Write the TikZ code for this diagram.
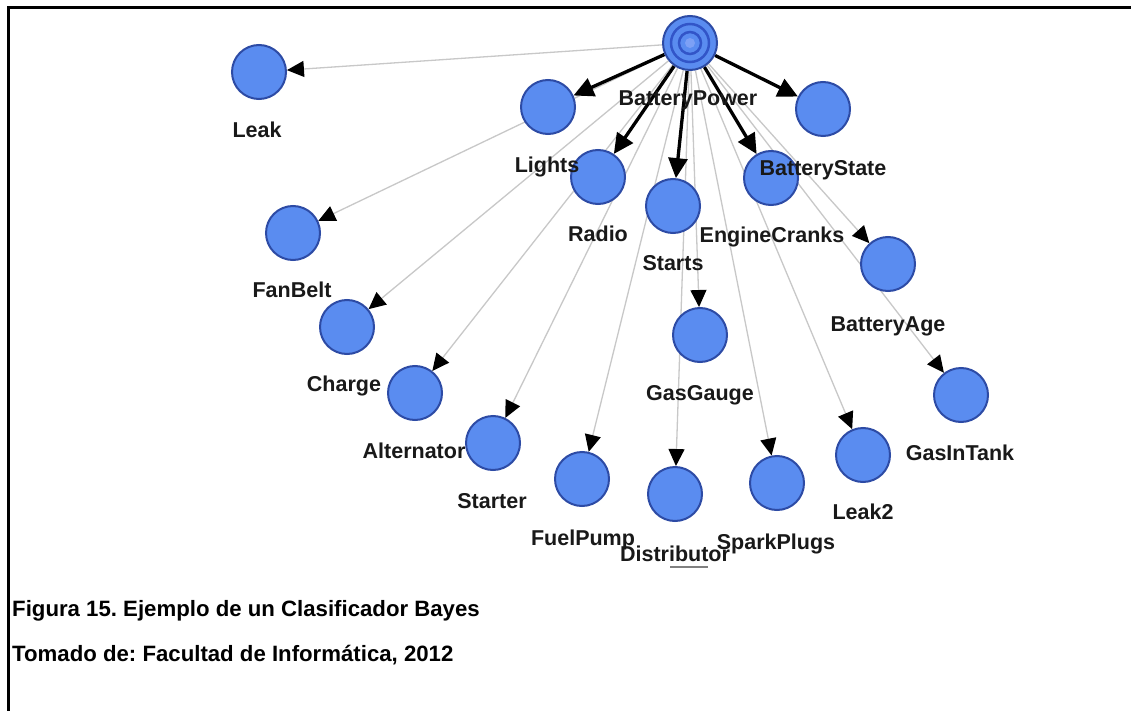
\documentclass[tikz,border=0pt]{standalone}
\usepackage{fontspec}
\setmainfont{Liberation Sans}
\usetikzlibrary{arrows.meta,calc}
\definecolor{nodefill}{RGB}{90,140,240}
\definecolor{nodeline}{RGB}{45,75,165}
\definecolor{ringdark}{RGB}{50,85,200}
\definecolor{ringlight}{RGB}{125,160,245}
\definecolor{thinedge}{RGB}{200,200,200}
\definecolor{labeltext}{RGB}{25,25,25}
\pgfdeclarelayer{bg}
\pgfdeclarelayer{edges}
\pgfsetlayers{bg,edges,main}
\frenchspacing
\begin{document}
\begin{tikzpicture}[x=1pt,y=-1pt,
  bnode/.style={circle, draw=nodeline, line width=2pt, fill=nodefill,
                minimum size=54pt, inner sep=0pt},
  nlabel/.style={font=\fontsize{21.5}{24}\selectfont\bfseries, text=labeltext,
                 inner sep=0pt, anchor=base},
  strong/.style={line width=3.3pt, draw=black,
                 -{Triangle[length=20pt,width=19pt]}},
  weak/.style={line width=1.3pt, draw=thinedge,
               -{Triangle[length=17pt,width=16pt,color=black]}},
  caption/.style={font=\fontsize{22.2}{26}\selectfont\bfseries, anchor=base west,
                  inner sep=0pt}
]
\useasboundingbox (0,0) rectangle (1131,711);
\begin{pgfonlayer}{bg}
  \fill[white] (0,0) rectangle (1131,711);
\end{pgfonlayer}

% frame
\draw[line width=3.5pt] (8.5,711) -- (8.5,7.5) -- (1131,7.5);

% class node with concentric rings
\node[bnode] (bp) at (690,43) {};
\draw[ringdark, line width=2.5pt] (bp.center) circle[radius=19];
\draw[ringdark, line width=2.5pt] (bp.center) circle[radius=11];
\fill[ringlight] (bp.center) circle[radius=5];

% attribute nodes
\node[bnode] (leak)    at (259,72)  {};
\node[bnode] (lights)  at (548,107) {};
\node[bnode] (bstate)  at (823,109) {};
\node[bnode] (radio)   at (598,177) {};
\node[bnode] (starts)  at (673,206) {};
\node[bnode] (cranks)  at (771,178) {};
\node[bnode] (fanbelt) at (293,233) {};
\node[bnode] (bage)    at (888,264) {};
\node[bnode] (charge)  at (347,327) {};
\node[bnode] (gauge)   at (700,335) {};
\node[bnode] (alt)     at (415,393) {};
\node[bnode] (tank)    at (961,395) {};
\node[bnode] (starter) at (493,443) {};
\node[bnode] (leaktwo) at (863,455) {};
\node[bnode] (fuel)    at (582,479) {};
\node[bnode] (dist)    at (675,494) {};
\node[bnode] (spark)   at (777,483) {};

% labels under the nodes
\node[nlabel] (bp-l)      at ($(bp)+(-2,63)$)      {BatteryPower};
\node[nlabel] (leak-l)    at ($(leak)+(-2,66)$)    {Leak};
\node[nlabel] (lights-l)  at ($(lights)+(-1,66)$)  {Lights};
\node[nlabel] (bstate-l)  at ($(bstate)+(0,67)$)   {BatteryState};
\node[nlabel] (radio-l)   at ($(radio)+(0,64)$)    {Radio};
\node[nlabel] (starts-l)  at ($(starts)+(0,64)$)   {Starts};
\node[nlabel] (cranks-l)  at ($(cranks)+(1,65)$)   {EngineCranks};
\node[nlabel] (fanbelt-l) at ($(fanbelt)+(-1,64)$) {FanBelt};
\node[nlabel] (bage-l)    at ($(bage)+(0,67)$)     {BatteryAge};
\node[nlabel] (charge-l)  at ($(charge)+(-3,64)$)  {Charge};
\node[nlabel] (gauge-l)   at ($(gauge)+(0,65)$)    {GasGauge};
\node[nlabel] (alt-l)     at ($(alt)+(-1,65)$)     {Alternator};
\node[nlabel] (tank-l)    at ($(tank)+(-1,65)$)    {GasInTank};
\node[nlabel] (starter-l) at ($(starter)+(-1,65)$) {Starter};
\node[nlabel] (leaktwo-l) at ($(leaktwo)+(0,64)$)  {Leak2};
\node[nlabel] (fuel-l)    at ($(fuel)+(1,66)$)     {FuelPump};
\node[nlabel] (dist-l)    at ($(dist)+(0,67)$)     {Distributor};
\node[nlabel] (spark-l)   at ($(spark)+(-1,66)$)   {SparkPlugs};

% clipped fragment below Distributor
\draw[gray, line width=1.5pt] (670,567) -- (708,567);

% connectors
\begin{pgfonlayer}{edges}
  \foreach \t in {leak,fanbelt,charge,alt,starter,fuel,dist,spark,leaktwo,tank,bage,gauge}
    \draw[weak] (bp) -- (\t);
  \foreach \t in {lights,radio,starts,cranks,bstate}
    \draw[strong] (bp) -- (\t);
\end{pgfonlayer}

% caption
\node[caption] (cap1) at (12,616) {Figura 15. Ejemplo de un Clasificador Bayes};
\node[caption] (cap2) at (12,661) {Tomado de: Facultad de Informática, 2012};
\end{tikzpicture}
\end{document}
